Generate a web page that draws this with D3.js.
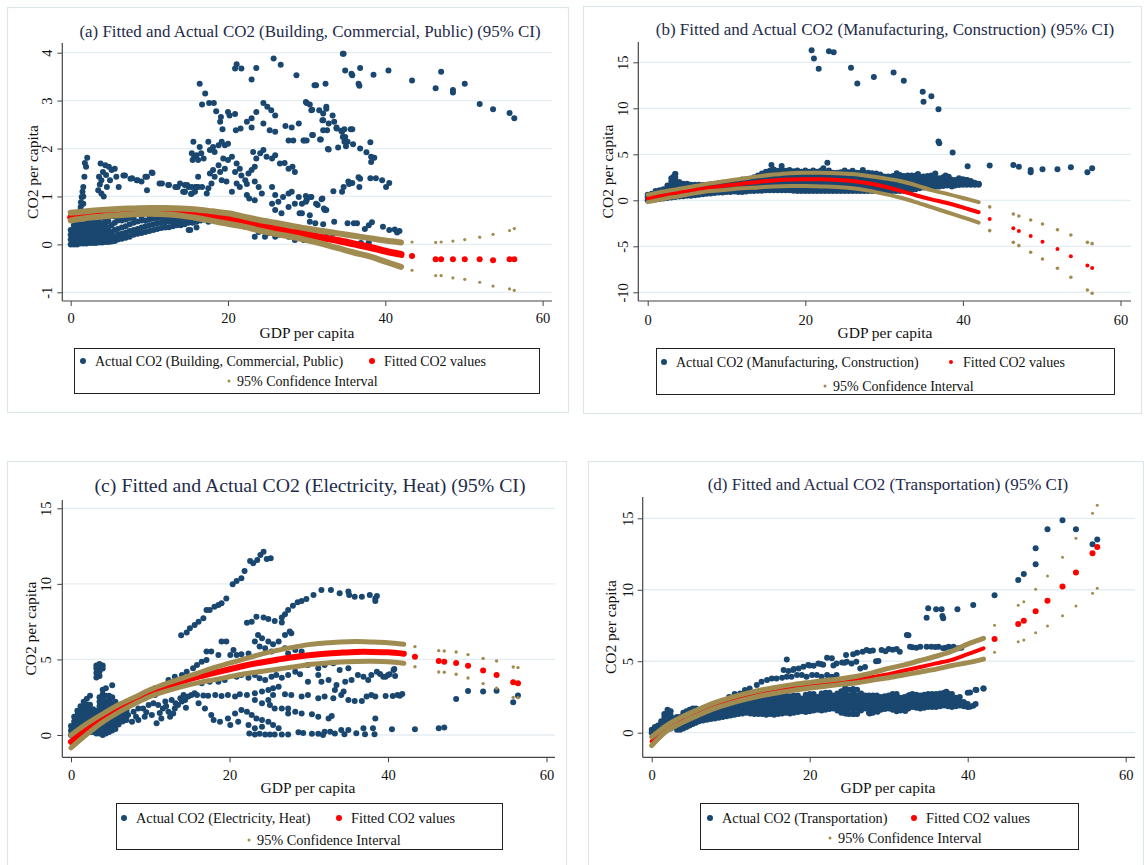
<!DOCTYPE html>
<meta charset="utf-8">
<style>
body { margin: 0; background: #fff; }
</style>
<svg width="1144" height="865"></svg>
<script src="https://d3js.org/d3.v7.min.js"></script>
<script>

// ---- data ----
const titles = [
	'(a) Fitted and Actual CO2 (Building, Commercial, Public) (95% CI)',
	'(b) Fitted and Actual CO2 (Manufacturing, Construction) (95% CI)',
	'(c) Fitted and Actual CO2 (Electricity, Heat) (95% CI)',
	'(d) Fitted and Actual CO2 (Transportation) (95% CI)'
];
const actualLabels = [
	'Actual CO2 (Building, Commercial, Public)',
	'Actual CO2 (Manufacturing, Construction)',
	'Actual CO2 (Electricity, Heat)',
	'Actual CO2 (Transportation)'
];
const fittedLabel = 'Fitted CO2 values';
const ciLabel = '95% Confidence Interval';
const xTicks = [0, 20, 40, 60];

// GDP per capita where fitted values / CI were read (dense part then sparse tail)
const gdpX = [0, 2, 4, 6, 8, 10, 12, 14, 16, 18, 20, 22, 24, 26, 28, 30, 32, 34, 36, 38, 40, 42,
	43.4, 46.4, 47.1, 48.6, 50.1, 52.0, 53.7, 55.8, 56.4];
const nDense = 22;

const fitA = [0.56, 0.63, 0.67, 0.69, 0.70, 0.71, 0.69, 0.67, 0.63, 0.59, 0.54, 0.47, 0.41, 0.34, 0.28, 0.21, 0.14, 0.08, 0.01, -0.06, -0.14, -0.21,
	-0.24, -0.31, -0.31, -0.31, -0.31, -0.31, -0.33, -0.31, -0.31];
const upA = [0.66, 0.69, 0.72, 0.74, 0.75, 0.76, 0.76, 0.75, 0.73, 0.69, 0.65, 0.58, 0.51, 0.45, 0.39, 0.33, 0.28, 0.23, 0.18, 0.13, 0.08, 0.04,
	0.05, 0.04, 0.05, 0.07, 0.10, 0.15, 0.21, 0.29, 0.33];
const loA = [0.50, 0.55, 0.58, 0.61, 0.63, 0.64, 0.63, 0.60, 0.55, 0.49, 0.43, 0.37, 0.29, 0.22, 0.16, 0.09, 0.01, -0.08, -0.17, -0.25, -0.36, -0.47,
	-0.54, -0.65, -0.65, -0.70, -0.73, -0.79, -0.87, -0.93, -0.96];

const fitB = [0.2, 0.55, 0.85, 1.15, 1.4, 1.6, 1.8, 2.0, 2.15, 2.25, 2.28, 2.28, 2.22, 2.1, 1.85, 1.5, 1.05, 0.55, 0.1, -0.3, -0.78, -1.3,
	-2.03, -3.05, -3.34, -3.88, -4.5, -5.29, -6.09, -7.1, -7.36];
const upB = [0.6, 0.95, 1.25, 1.55, 1.85, 2.1, 2.35, 2.6, 2.8, 2.95, 3.0, 3.0, 2.95, 2.85, 2.65, 2.4, 2.1, 1.65, 1.1, 0.7, 0.25, -0.2,
	-0.72, -1.49, -1.71, -2.14, -2.58, -3.2, -3.77, -4.57, -4.71];
const loB = [-0.2, 0.15, 0.45, 0.75, 1.0, 1.15, 1.3, 1.4, 1.5, 1.55, 1.55, 1.5, 1.45, 1.3, 1.05, 0.7, 0.3, -0.2, -0.75, -1.3, -1.85, -2.43,
	-3.3, -4.57, -4.93, -5.65, -6.38, -7.39, -8.37, -9.75, -10.1];

const fitC = [-0.45, 0.4, 1.15, 1.75, 2.3, 2.8, 3.2, 3.55, 3.85, 4.1, 4.35, 4.6, 4.8, 4.98, 5.15, 5.28, 5.38, 5.45, 5.5, 5.5, 5.47, 5.38,
	5.18, 4.9, 4.85, 4.76, 4.59, 4.26, 3.97, 3.49, 3.42];
const upC = [0.0, 0.75, 1.4, 2.0, 2.5, 3.0, 3.4, 3.75, 4.1, 4.45, 4.75, 5.05, 5.35, 5.6, 5.8, 5.98, 6.08, 6.15, 6.18, 6.15, 6.1, 6.0,
	5.85, 5.58, 5.56, 5.49, 5.32, 5.07, 4.9, 4.5, 4.46];
const loC = [-0.85, 0.05, 0.85, 1.5, 2.05, 2.55, 2.9, 3.2, 3.45, 3.65, 3.85, 4.05, 4.2, 4.35, 4.5, 4.65, 4.75, 4.83, 4.87, 4.88, 4.85, 4.75,
	4.52, 4.17, 4.15, 4.02, 3.77, 3.4, 3.09, 2.49, 2.47];

const fitD = [-0.6, 0.35, 0.95, 1.45, 1.9, 2.25, 2.55, 2.8, 3.0, 3.18, 3.32, 3.45, 3.58, 3.72, 3.9, 4.1, 4.35, 4.6, 4.85, 5.1, 5.5, 5.9,
	6.56, 7.61, 7.84, 8.49, 9.24, 10.22, 11.2, 12.55, 13.0];
const upD = [-0.3, 0.55, 1.15, 1.65, 2.1, 2.45, 2.75, 3.0, 3.2, 3.38, 3.52, 3.65, 3.78, 3.95, 4.2, 4.5, 4.75, 5.05, 5.35, 5.7, 6.2, 6.6,
	7.51, 8.91, 9.17, 10.03, 10.97, 12.27, 13.6, 15.35, 15.91];
const loD = [-0.9, 0.15, 0.75, 1.25, 1.7, 2.05, 2.35, 2.6, 2.8, 2.98, 3.12, 3.25, 3.38, 3.5, 3.68, 3.85, 4.05, 4.25, 4.45, 4.7, 4.9, 5.15,
	5.62, 6.37, 6.49, 7.0, 7.47, 8.19, 8.87, 9.75, 10.1];

// actual observations: single points "x,y" and dense columns "x:y,y,y"
const actualPtsA = `2.1,1.81 1.95,1.62 1.74,1.41 1.6,1.2 1.4,0.99 1.27,0.78 1.1,0.58 1.8,1.7 1.5,1.1 1.3,0.88
3.8,1.69 4.4,1.65 4.1,1.51 3.6,1.41 3.9,1.34 3.5,1.13 3.9,1.06 4.6,1.2 5.0,1.34 5.6,1.58 5.8,1.41 6.1,1.2 6.9,1.44 7.8,1.38 8.4,1.34 9.0,1.31 9.7,1.41 10.4,1.49 11.6,1.27 12.4,1.24 13.3,1.2 13.9,1.27 14.5,1.24 15.0,1.2 14.3,1.1 15.3,1.05 16.0,1.2 16.7,1.2 4.85,1.62 5.2,1.55 6.7,1.44 7.6,1.37 8.5,1.34 9.5,1.41 10.3,1.5 9.7,1.13 11.3,1.27 12.5,1.24 13.6,1.2 14.8,1.24 15.9,1.2 14.5,1.1 15.4,1.06 4.2,1.0 3.7,1.25 4.5,1.45
16.4,3.35 17.1,3.15 16.7,2.92 17.6,2.95 18.2,2.95 18.5,2.78 19.1,2.66 19.0,2.56 19.3,2.40 20.0,2.76 20.2,2.69 20.9,2.72 21.0,2.38 21.6,2.42 20.9,3.67 21.1,3.76 21.7,3.67 23.0,3.44 23.6,3.68 25.8,3.88 26.7,3.75 28.7,3.53 23.0,2.44 22.4,2.56 23.0,2.63 23.6,2.76 24.5,2.95 25.0,2.87 25.5,2.80 26.0,2.69 24.5,2.52 25.3,2.38 26.0,2.35 27.3,2.47 28.1,2.44 27.7,2.17 28.3,2.17 29.0,2.52 29.6,2.17 30.0,2.17 30.0,2.95 30.4,2.92 30.6,2.80 31.2,3.32 32.4,3.35 30.8,2.28 31.8,2.19 32.1,2.73 32.5,2.83 32.1,2.59 32.8,2.52 33.5,2.56 32.1,2.38 33.8,2.42 34.5,2.35 34.9,2.24 35.6,2.4 35.2,2.14 32.8,1.98 34.0,2.02 34.7,3.98 34.9,3.63 35.7,3.56
15.4,1.9 15.6,2.14 15.7,1.83 16.0,1.86 16.2,1.76 15.5,1.76 16.4,2.03 16.6,1.9 16.9,1.79 17.5,2.14 17.7,1.97 18.1,2.03 18.3,1.93 18.8,2.07 19.2,2.14 19.6,2.07 20.0,2.1 19.4,1.79 20.0,1.76 20.5,1.83 20.9,1.51 18.8,1.65 19.0,1.51 19.6,1.58 18.1,1.55 17.7,1.48 18.3,1.41 19.2,1.34 19.8,1.31 17.9,1.27 17.5,1.17 17.3,1.06 16.2,1.41 16.2,1.2 15.8,1.1 15.4,1.2 14.5,1.1 21.1,1.69 21.5,1.58 21.7,1.44 22.2,1.34 22.6,1.48 23.0,1.55 23.4,1.62 23.6,1.79 23.2,1.93 24.1,1.9 24.5,1.97 24.9,1.83 25.6,1.79 26.0,1.86 26.6,1.69 27.2,1.7 27.7,1.58 28.5,1.51 28.2,1.62 23.4,1.31 23.9,1.2 24.3,1.06 22.4,1.03 22.7,0.96 23.4,0.92 25.6,1.2 26.0,1.03 26.4,0.89 27.0,0.99 27.7,1.06 28.1,1.1 29.0,0.99 28.5,0.85 29.4,0.85 30.0,0.92 30.6,0.99 31.9,0.94 31.4,0.82 32.3,0.72 30.4,0.61 29.4,0.65 27.7,0.78 26.8,0.65 26.0,0.72 25.6,0.85 25.1,0.23 26.0,0.16 24.7,0.16 21.5,1.2 21.1,1.27 20.5,1.1 22.4,1.26 33.4,1.11 33.5,0.47 34.5,1.1 35.3,1.31 35.2,0.44
31.0,3.32 29.9,2.97 30.7,2.81 31.6,2.8 32.5,2.87 33.3,2.69 32.0,2.59 32.6,2.38 33.8,2.44 34.4,2.37 34.8,2.40 35.8,2.40 34.6,2.24 34.8,2.14 29.7,2.17 30.7,2.28 31.7,2.19 32.7,1.99 35.0,2.05 35.9,2.09 36.8,2.0 38.1,2.13 37.6,1.92 38.2,1.83 38.6,1.81 38.2,1.72 34.7,1.2 35.4,1.26 35.8,1.28 36.6,1.4 36.8,1.37 36.7,1.2 38.1,1.38 38.8,1.38 39.6,1.34 40.1,1.2 40.5,1.28 29.9,1.01 30.5,0.99 29.9,0.89 31.2,0.85 32.0,0.96 32.2,0.75 32.5,0.72 29.1,0.65 30.4,0.47 31.1,0.44 32.1,0.42 36.0,0.44 36.4,0.44 37.9,0.4 38.3,0.46 37.4,0.32 37.9,0.04 39.7,0.37 40.5,0.3 41.2,0.31 41.8,0.28 41.5,0.25 32.5,0.16 33.3,0.22 36.9,0.03 34.6,3.98 35.8,3.53 36.8,3.68 36.6,3.35 36.7,3.31 38.5,3.54 40.4,3.63
43.4,3.42 46.4,3.26 47.1,3.6 48.6,3.22 48.6,3.17 50.1,3.35 52.0,2.93 53.7,2.82 55.8,2.74 56.4,2.63
27.7,0.16 28.5,0.09 29.6,0.09 23.4,0.16 23.9,0.26 22.2,0.37 20.9,0.44 21.5,0.5 19.8,0.45 24.5,0.3 26.5,0.2 27.2,0.25 18.5,0.5 17.5,0.47 15.2,0.3 16.0,0.35`;
const actualColsA = `0:0,0.1,0.2,0.3 0.4:0,0.1,0.2,0.3,0.4 0.8:0,0.1,0.2,0.3,0.4,0.5 1.2:0.02,0.12,0.22,0.32,0.42,0.55,0.7 1.6:0.02,0.12,0.22,0.32,0.42,0.55,0.85,1
2:0.02,0.12,0.22,0.32,0.42,0.52 2.4:0.03,0.13,0.23,0.33,0.43,0.53 2.8:0.03,0.13,0.23,0.33,0.43,0.55 3.2:0.03,0.13,0.23,0.33,0.43,0.53 3.6:0.04,0.14,0.24,0.34,0.44,0.54
4:0.04,0.14,0.24,0.34,0.44,0.56 4.4:0.05,0.15,0.25,0.35,0.45,0.55 4.8:0.05,0.15,0.25,0.35,0.48,0.58 5.2:0.06,0.16,0.26,0.4,0.6 5.6:0.07,0.17,0.3,0.45,0.58
6:0.1,0.2,0.32,0.5 6.5:0.12,0.22,0.35,0.5 7:0.14,0.25,0.38,0.52 7.5:0.16,0.28,0.42,0.55 8:0.2,0.3,0.45,0.56 8.5:0.22,0.32,0.48 9:0.24,0.35,0.5,0.58 9.5:0.26,0.38,0.5
10:0.28,0.4,0.52,0.6 10.5:0.3,0.42,0.54 11:0.32,0.44,0.55 11.5:0.34,0.45,0.56 12:0.35,0.46,0.56 12.5:0.36,0.47,0.57 13:0.38,0.48,0.58 13.5:0.4,0.5,0.58
14:0.4,0.5,0.58 14.5:0.42,0.52 15:0.3,0.45,0.54 15.5:0.45,0.55 16:0.47,0.55 16.5:0.5 17:0.52`;

const actualPtsB = `20.8,16.3 21.1,15.4 23.0,16.2 23.6,16.1 21.7,14.3 25.8,14.4 26.6,12.7 28.7,13.4 31.2,13.9 32.5,13.0 34.9,11.8 35.0,10.7 36.0,11.3 36.9,9.9 36.9,6.4 37.0,6.2 38.7,5.2 40.6,3.7
43.4,3.77 46.4,3.84 47.1,3.65 48.6,3.29 48.6,3.04 50.1,3.37 52.0,3.37 53.7,3.58 55.8,3.04 56.4,3.48
15.7,3.84 17.0,3.73 22.8,4.09 22.3,3.48 27.3,3.30 34.3,2.86 3.5,2.86 3.3,2.6
42.0,1.78 41.3,1.78 40.1,2.03 39.0,2.03 38.2,2.57 37.3,2.21 36.0,2.64 35.2,2.21 34.3,1.78 33.5,2.21 32.9,2.5 32.0,2.75 31.2,2.64 31.6,2.93 30.5,2.39 29.7,2.5 38.6,1.49 36.7,1.49 35.6,1.67 38.4,2.03 39.5,2.4 40.5,2.2 41.0,2.1 37.8,2.7 36.5,2.9 35.8,2.5`;
const actualColsB = `0:0,0.3,0.6 0.5:0.05,0.35,0.7 1:0.1,0.45,0.8,1 1.5:0.15,0.5,0.85,1.1 2:0.2,0.55,0.9,1.2 2.5:0.25,0.6,0.95,1.3,1.6 3:0.3,0.65,1,1.35,1.7,2.05,2.4
3.5:0.35,0.7,1.05,1.4,1.75,2.1,2.5,2.85 4:0.4,0.75,1.1,1.45,1.8,2 4.5:0.45,0.8,1.15,1.5,1.8 5:0.5,0.85,1.2,1.5,1.8 5.5:0.5,0.85,1.2,1.5,1.7
6:0.55,0.9,1.25,1.7 6.5:0.6,0.95,1.3,1.7 7:0.65,1,1.35,1.65 7.5:0.7,1.05,1.4,1.7 8:0.75,1.1,1.45,1.75 8.5:0.8,1.15,1.5,1.8 9:0.85,1.2,1.55,1.85
9.5:0.85,1.2,1.55,1.9 10:0.9,1.25,1.6,1.9 10.5:0.9,1.25,1.6,1.95 11:0.95,1.3,1.65,1.95 11.5:0.9,1.25,1.6,1.95,2.1 12:0.9,1.25,1.6,1.95,2.25
12.5:0.95,1.3,1.65,2,2.3 13:1,1.35,1.7,2.05,2.35 13.5:1,1.35,1.7,2.05,2.4,2.5 14:1.05,1.4,1.75,2.1,2.45,2.7 14.5:1.05,1.4,1.75,2.1,2.45,2.75,2.9
15:1.1,1.45,1.8,2.15,2.5,2.8,3.1 15.5:1.1,1.45,1.8,2.15,2.5,2.85,3.2 16:1.1,1.45,1.8,2.15,2.5,2.85,3.2,3.35 16.5:1.1,1.45,1.8,2.15,2.5,2.85,3.2
17:1.1,1.45,1.8,2.15,2.5,2.85,3.2,3.35 17.5:1.1,1.45,1.8,2.15,2.5,2.85,3.2 18:1.1,1.45,1.8,2.15,2.5,2.85,3.2,3.3 18.5:1.05,1.4,1.75,2.1,2.45,2.8,3.15
19:1,1.35,1.7,2.05,2.4,2.75,3.1,3.25 19.5:1,1.35,1.7,2.05,2.4,2.75,3.1 20:1,1.35,1.7,2.05,2.4,2.75,3.1,3.25 20.5:1,1.35,1.7,2.05,2.4,2.75,3.1
21:1,1.35,1.7,2.05,2.4,2.75,3.1,3.25 21.5:1,1.35,1.7,2.05,2.4,2.75,3.1 22:1,1.35,1.7,2.05,2.4,2.75,3.05,3.25 22.5:1,1.35,1.7,2.05,2.4,2.75,3.05
23:1,1.35,1.7,2.05,2.4,2.7,3.05,3.25 23.5:1,1.35,1.7,2.05,2.4,2.7,3 24:1,1.35,1.7,2.05,2.4,2.7,3 24.5:1,1.35,1.7,2.05,2.4,2.7,3.05
25:1,1.35,1.7,2.05,2.4,2.7,3.05,3.25 25.5:1,1.35,1.7,2.05,2.4,2.7,3.05 26:1,1.35,1.7,2.05,2.4,2.7,3,3.2 26.5:1,1.35,1.7,2.05,2.4,2.7,3
27:1,1.35,1.7,2.05,2.4,2.7,3 27.5:1,1.35,1.7,2.05,2.4,2.7,3 28:1,1.35,1.7,2.05,2.4,2.7,3 28.5:1,1.35,1.7,2.05,2.35,2.65,2.95
29:1,1.35,1.7,2.05,2.35,2.65,2.9 29.5:1,1.35,1.7,2.05,2.35,2.6,2.8 30:1,1.35,1.7,2.05,2.35,2.6 30.5:1,1.35,1.7,2.05,2.35,2.6
31:1,1.35,1.7,2.05,2.35,2.6 31.5:1,1.35,1.7,2.05,2.35,2.6 32:1,1.35,1.7,2.05,2.35,2.6 32.5:1.05,1.4,1.75,2.1,2.4,2.65
33:1.1,1.45,1.8,2.15,2.45,2.7 33.5:1.15,1.5,1.85,2.2,2.5,2.7 34:1.2,1.55,1.9,2.25,2.55,2.7 34.5:1.3,1.65,2,2.3,2.6 35:1.4,1.75,2.1,2.4,2.6
35.5:1.45,1.8,2.15,2.45,2.65 36:1.5,1.85,2.2,2.5,2.7 36.5:1.5,1.85,2.2,2.45 37:1.5,1.85,2.2,2.4 37.5:1.55,1.9,2.25,2.5 38:1.6,1.95,2.3,2.5
38.5:1.6,1.95,2.25 39:1.6,1.95,2.2 39.5:1.65,2,2.3 40:1.7,2,2.3 40.5:1.7,2,2.2 41:1.7,2 41.5:1.7,1.9 42:1.7,1.8`;

const actualPtsC = `14.6,6.79 15.0,7.06 15.6,7.28 16.1,7.5 16.7,7.72 17.1,8.27 17.5,8.27 18.1,8.49 18.6,8.6 19.0,8.71 19.6,9.04 20.4,9.97 20.9,10.19 21.5,10.37 21.9,10.85 22.6,11.52 23.0,11.36 23.5,11.58 23.9,11.91 24.3,12.13 24.7,11.65 25.2,11.69 13.9,6.6
26.6,7.77 27.0,7.99 27.4,8.27 28.0,8.56 28.6,8.78 29.1,8.87 29.7,9.0 30.6,9.27 31.6,9.6 32.8,9.6 33.9,9.38 35.0,9.49 35.1,9.27 35.8,9.15 36.7,9.15 37.7,9.27 38.4,9.04 38.4,8.87 38.6,9.2
22.2,7.43 22.8,7.5 23.4,7.83 24.3,7.77 24.9,7.68 25.7,7.54 26.6,7.45 27.6,6.84 27.8,6.73 27.0,6.62 26.2,6.18 25.5,6.0 24.9,6.18 24.1,6.4 23.2,6.18 23.8,5.85 24.5,5.74 25.3,5.52 22.4,5.4 21.5,5.34 20.9,5.29 20.1,5.29 19.6,6.18 20.5,5.63 18.6,5.29 17.7,5.52 27.4,5.4 27.0,5.74 28.3,5.63 29.1,5.52 23.6,6.62 19.0,6.18 17.1,5.52
7.2,1.32 7.9,1.54 8.5,1.76 9.1,1.76 9.8,1.99 10.4,2.1 11.0,1.99 11.6,1.76 12.3,1.54 12.9,1.43 7.7,0.88 8.5,0.99 9.3,1.21 10.2,1.32 10.8,0.77 11.4,1.1 12.5,1.21 13.1,1.76 13.5,1.99 14.0,2.21 14.4,2.32 14.8,2.54 15.2,2.65 15.6,2.76 14.2,2.65 13.8,2.43 12.7,2.32 11.9,2.21 10.6,2.65 11.4,3.2 11.8,3.31 12.3,3.64 13.1,3.86 14.0,3.97 14.6,4.19 15.4,4.41 15.9,4.63 16.5,4.85 17.1,4.96 10.6,3.09 10.0,2.87 8.0,2.3 9.0,2.5 7.0,1.8 6.8,1.0 8.2,1.2 9.5,1.5 11.2,1.45 12.0,1.9 13.2,2.1 14.5,1.8
15.9,2.65 16.7,2.62 17.3,2.6 18.2,2.65 19.0,2.58 19.8,2.65 20.7,2.54 21.3,2.69 22.2,2.65 23.2,2.76 24.1,2.87 24.9,2.98 25.5,3.09 26.2,3.2
16.5,3.42 17.5,3.53 18.6,3.53 19.4,3.64 20.9,3.86 21.5,3.97 22.4,3.79 23.2,3.97 23.8,3.75 24.5,3.64 25.3,3.86 25.9,3.97 26.6,3.79 27.4,3.97 28.3,4.19 28.9,4.02
16.1,2.1 16.9,1.76 17.7,1.32 18.0,0.99 18.8,0.88 19.8,1.1 20.7,1.43 21.5,1.65 22.2,1.54 22.8,1.32 23.4,1.1 24.1,0.99 24.9,0.88 25.5,0.66 26.2,0.44 20.1,0.66 21.1,0.88 22.4,0.66 23.2,0.44 24.1,0.55 27.4,1.76 28.3,1.54 29.1,1.43 30.4,1.37 31.2,1.21 32.5,1.1 32.9,1.25 23.2,2.32 24.1,2.1 25.1,1.99 25.7,1.76 26.6,1.76 27.4,1.43 24.9,2.32 25.5,2.65 27.0,2.69 27.8,2.65 29.1,2.54 29.9,2.65 31.2,2.43 32.0,2.54 33.1,2.43 34.1,2.65 35.0,2.32 35.8,2.25 36.7,2.25 37.3,2.54 37.9,2.65 38.4,2.54
29.9,3.53 31.2,3.97 31.6,3.53 32.5,3.64 33.5,3.31 34.6,3.53 35.4,3.64 36.2,3.97 36.9,3.86 37.5,3.64 37.9,3.97 38.6,4.19 39.4,3.86 40.0,3.97 40.7,4.3 40.9,3.9 35.0,4.41 33.9,4.3 33.1,4.74 32.0,4.63 31.2,4.41 29.9,4.63 33.3,2.98 34.4,2.87
23.2,0.04 23.8,0.09 24.5,0.04 25.1,0.04 25.7,0.04 26.6,0.04 27.4,0.04 28.7,0.18 29.3,0.13 30.4,0.09 31.2,0.09 32.0,0.22 32.7,0.22 34.1,0.33 35.0,0.33 36.0,0.11 36.9,0.44 37.1,0.05 38.1,0.44 38.3,0.05 40.5,0.38 33.3,0.1 34.5,0.05 31.8,0.0 22.5,0.1
38.4,1.1 39.7,2.58 40.6,2.58 41.2,2.65 41.5,2.6 41.8,2.71 39.0,4.04 39.7,3.86 40.2,4.02 40.8,4.37
43.4,0.38 46.4,0.44 47.1,0.49 48.6,2.38 50.1,2.91 52.0,2.87 53.7,2.93 55.8,2.16 56.4,2.62`;
const actualColsC = `0:0,0.3,0.6 0.4:0,0.3,0.6,0.9,1.2 0.8:0.1,0.4,0.7,1,1.3,1.6 1.2:0.1,0.4,0.7,1,1.3,1.6,1.9 1.6:0.1,0.4,0.7,1,1.3,1.6,1.9,2.2
2:0.2,0.5,0.8,1.1,1.4,1.7,2,2.4 2.4:0.2,0.5,0.8,1.1,1.4,1.7,2,2.6 2.8:0.2,0.5,0.8,1.1,1.4,1.7 3.2:0.1,0.4,0.7,1,1.3,1.6,3.8,4.1,4.4,4.6
3.6:0.1,0.4,0.7,1,1.3,1.6,1.9,2.2,2.5,3.9,4.2,4.5,4.7 4:0,0.3,0.6,0.9,1.2,1.5,1.8,2.1,2.4,2.7,3,4.4,4.6 4.4:0.1,0.4,0.7,1,1.3,1.6,1.9,2.2,2.6,3.1
4.8:0.2,0.5,0.8,1.1,1.4,1.7,2,2.3,2.6 5.2:0.3,0.6,0.9,1.2,1.5,1.8,2.1,2.5,3.3 5.6:0.4,0.7,1,1.3,1.6,1.9,2.2 6:0.7,1,1.3,1.6,1.9
6.5:0.9,1.2,1.5,1.8 7:1,1.3,1.6`;

const actualPtsD = `38.7,8.63 34.8,8.05 35.0,8.7 36.0,8.63 36.7,8.63 36.8,8.17 36.9,8.0 40.7,8.94 32.5,6.81
43.4,9.61 46.4,10.69 47.1,11.1 48.6,11.78 48.6,12.9 50.1,14.23 52.0,14.86 53.7,14.23 55.8,13.18 56.4,13.51
17.1,5.13 16.7,4.39 17.3,4.32 17.9,4.39 18.6,4.5 19.2,4.62 19.8,4.74 20.5,4.69 21.1,4.85 22.2,5.25 22.8,5.2 23.4,4.85 24.1,4.92 24.7,4.97 25.3,4.85 25.9,4.97 26.4,4.5 24.6,5.44 25.5,5.48 26.7,5.67 27.2,5.79 27.6,5.72 28.7,5.02 29.1,5.79 30.0,5.86 31.0,5.86 31.4,5.67 32.7,6.02 34.0,6.02 34.8,6.02 35.4,6.02 36.3,6.02 36.9,5.9 37.6,6.02 38.2,6.02 38.8,5.9 32.3,6.83 27.0,4.6 21.7,4.75 23.0,4.7 33.5,5.95 30.5,5.8 29.6,5.7
18.0,4.45 20.0,4.7 21.4,4.8 24.4,4.9 26.0,5.6 28.0,5.75 28.4,5.0 33.0,5.98 35.9,6.0 37.2,5.95 39.2,5.95
13.3,3.34 13.9,3.57 14.6,3.69 15.2,3.8 15.8,3.8 16.5,3.85 17.1,3.92 17.7,3.92 18.4,4.04 19.0,4.04 19.6,3.92 20.3,4.04 20.9,4.04 21.5,3.92 22.2,4.04 22.8,3.92 23.4,4.04 12.4,3.1 11.8,2.99 11.2,2.75 10.5,2.7 9.8,2.5
24.7,1.35 25.6,1.3 27.6,1.35 28.6,1.47 32.1,1.52 31.0,1.6 24.5,3.1 25.5,3.0 32.7,2.64 37.3,2.87 42.0,3.1 41.1,2.99 40.3,2.82 40.7,1.89 40.3,1.82 39.0,1.94`;
const actualColsD = `0:0,0.2 0.4:0,0.2,0.4 0.8:0.1,0.3,0.5 1.2:0.2,0.4,0.6,0.8 1.6:0.3,0.5,0.8,1.1,1.3 2:0.3,0.5,0.8,1.1,1.4,1.6 2.4:0.3,0.6,0.9,1.2,1.5
2.8:0.4,0.7,1 3.2:0.2,0.5,0.8,1.1 3.6:0.2,0.5,0.8,1.1 4:0.3,0.6,0.9,1.2,1.4 4.4:0.4,0.7,1,1.3,1.5 4.8:0.5,0.8,1.1,1.4,1.6 5.2:0.6,0.9,1.2,1.5,1.7 5.6:0.7,1,1.3,1.6,1.7
6:0.8,1.1,1.4 6.5:0.85,1.15,1.45,1.7 7:0.9,1.2,1.5,1.8 7.5:0.95,1.25,1.55,1.85 8:1,1.3,1.6,1.9 8.5:1.05,1.35,1.65,1.95 9:1.1,1.4,1.7,2 9.5:1.15,1.45,1.75,2.05
10:1.2,1.5,1.8,2.1 10.5:1.25,1.55,1.85,2.15 11:1.3,1.6,1.9,2.2 11.5:1.35,1.65,1.95,2.25 12:1.4,1.7,2,2.3 12.5:1.35,1.65,1.95,2.25 13:1.3,1.6,1.9,2.2,2.4
13.5:1.3,1.6,1.9,2.2,2.45 14:1.3,1.6,1.9,2.2,2.5 14.5:1.25,1.55,1.85,2.15,2.45 15:1.3,1.6,1.9,2.2,2.5 15.5:1.25,1.55,1.85,2.15,2.45 16:1.3,1.6,1.9,2.2,2.5
16.5:1.35,1.65,1.95,2.25,2.55 17:1.4,1.7,2,2.3,2.6 17.5:1.35,1.65,1.95,2.25,2.55 18:1.4,1.7,2,2.3,2.6 18.5:1.45,1.75,2.05,2.35,2.6 19:1.5,1.8,2.1,2.4
19.5:1.45,1.75,2.05,2.35,2.65 20:1.5,1.8,2.1,2.4,2.7 20.5:1.55,1.85,2.15,2.45,2.7 21:1.6,1.9,2.2,2.5 21.5:1.55,1.85,2.15,2.45,2.75 22:1.6,1.9,2.2,2.5,2.8
22.5:1.65,1.95,2.25,2.55,2.8 23:1.7,2,2.3,2.6 23.5:1.55,1.85,2.15,2.45,2.75 24:1.4,1.7,2,2.3,2.6,2.9 24.5:1.35,1.65,1.95,2.25,2.55,2.85,3.1
25:1.3,1.7,2,2.3,2.6,3 25.5:1.3,1.6,1.9,2.2,2.5,2.8,3.05 26:1.3,1.7,2,2.3,2.6,3 26.5:1.55,1.85,2.15,2.45,2.75 27:1.7,2,2.3,2.6 27.5:1.4,1.7,2,2.3,2.6
28:1.4,1.7,2,2.3,2.6 28.5:1.5,1.8,2.1,2.4,2.6 29:1.6,1.9,2.2,2.5 29.5:1.65,1.95,2.25,2.55 30:1.7,2,2.3,2.6 30.5:1.6,1.9,2.2,2.5,2.7 31:1.5,1.8,2.1,2.4,2.7
31.5:1.55,1.85,2.15,2.45 32:1.6,1.9,2.2,2.5 32.5:1.7,2,2.3,2.6 33:1.8,2.1,2.4,2.7 33.5:1.75,2.05,2.35,2.65 34:1.7,2,2.3,2.6 34.5:1.75,2.05,2.35,2.65
35:1.8,2.1,2.4,2.7 35.5:1.8,2.1,2.4,2.7 36:1.8,2.1,2.4,2.7 36.5:1.85,2.15,2.45,2.75 37:1.9,2.2,2.5,2.8 37.5:1.85,2.15,2.45,2.75 38:1.8,2.1,2.4,2.7
38.5:1.85,2.15,2.45 39:1.9,2.2,2.5 39.5:1.85,2.15 40:1.8,2,2.8 41:2,3 42:3.1`;

// ---- helpers ----
const pts = (s) => s.trim().split(/\s+/).map((p) => p.split(',').map(Number));
const cols = (s) => s.trim().split(/\s+/).flatMap((c) => {
	const [x, ys] = c.split(':');
	return ys.split(',').map((v) => [Number(x), Number(v)]);
});

const NAVY = '#1a476f', RED = '#ff0000', TAN = '#a08b50';
const SERIF = '"Liberation Serif", "Times New Roman", serif';
const svg = d3.select('svg');

const panels = [
	{ frame: [7, 7, 568, 412], xr: [70.7, 542.6], yd: [-1, 4], yr: [292.3, 52.7], yTicks: [-1, 0, 1, 2, 3, 4],
		axL: 62.3, axR: 552, axT: 43, axB: 301, tickLabX: 47, yTitleX: 33, titleX: 310, titleY: 37, titleSize: 16.9,
		xTickY: 323, xTitleX: 307, xTitleY: 338,
		leg: { box: [74, 348, 539, 393], r1: 361, r2: 381, a: 83, f: 372, c: 229, size: 14 },
		rA: 3, rF: 3, wF: 7, rC: 1.6, wC: 6,
		actual: pts(actualPtsA).concat(cols(actualColsA)), fit: fitA, up: upA, lo: loA },
	{ frame: [583, 6, 1141, 413], xr: [647.7, 1120.5], yd: [-10, 15], yr: [292.3, 62.3], yTicks: [-10, -5, 0, 5, 10, 15],
		axL: 638.3, axR: 1131, axT: 42, axB: 301, tickLabX: 623, yTitleX: 608, titleX: 885, titleY: 35, titleSize: 17,
		xTickY: 325, xTitleX: 885, xTitleY: 338,
		leg: { box: [656, 348, 1114, 394], r1: 362, r2: 386, a: 664, f: 951, c: 825, size: 14 },
		rA: 3, rF: 2, wF: 4, rC: 1.8, wC: 4,
		actual: pts(actualPtsB).concat(cols(actualColsB)), fit: fitB, up: upB, lo: loB },
	{ frame: [7, 461, 566, 870], xr: [71, 546.5], yd: [0, 15], yr: [735, 508.3], yTicks: [0, 5, 10, 15],
		axL: 62.3, axR: 555, axT: 500, axB: 757.3, tickLabX: 46, yTitleX: 31, titleX: 310, titleY: 492, titleSize: 19.8,
		xTickY: 780, xTitleX: 308, xTitleY: 793,
		leg: { box: [116, 803, 502, 849], r1: 818, r2: 840, a: 124, f: 339, c: 249, size: 14.3 },
		rA: 3, rF: 3, wF: 6, rC: 1.7, wC: 5,
		actual: pts(actualPtsC).concat(cols(actualColsC)), fit: fitC, up: upC, lo: loC },
	{ frame: [588, 461, 1143, 870], xr: [651.7, 1125.7], yd: [0, 15], yr: [732.7, 518.3], yTicks: [0, 5, 10, 15],
		axL: 642.7, axR: 1135, axT: 497, axB: 757.3, tickLabX: 628, yTitleX: 611, titleX: 888, titleY: 490, titleSize: 17,
		xTickY: 780, xTitleX: 888, xTitleY: 793,
		leg: { box: [700, 803, 1078, 849], r1: 818, r2: 838, a: 710, f: 914, c: 830, size: 14.3 },
		rA: 3, rF: 3, wF: 4, rC: 1.5, wC: 5,
		actual: pts(actualPtsD).concat(cols(actualColsD)), fit: fitD, up: upD, lo: loD }
];

function drawPanel(p, i) {
	const x = d3.scaleLinear().domain([0, 60]).range(p.xr);
	const y = d3.scaleLinear().domain(p.yd).range(p.yr);
	const g = svg.append('g').attr('font-family', SERIF);

	// outer frame
	g.append('rect')
		.attr('x', p.frame[0] + 0.5).attr('y', p.frame[1] + 0.5)
		.attr('width', p.frame[2] - p.frame[0]).attr('height', p.frame[3] - p.frame[1])
		.attr('fill', 'none').attr('stroke', '#dde6ea').attr('stroke-width', 1.2);

	// grid
	g.append('g').selectAll('line').data(p.yTicks).join('line')
		.attr('x1', p.axL).attr('x2', p.axR)
		.attr('y1', (d) => y(d)).attr('y2', (d) => y(d))
		.attr('stroke', '#e4edf1').attr('stroke-width', 1.3);

	// actual
	g.append('g').selectAll('circle').data(p.actual).join('circle')
		.attr('cx', (d) => x(d[0])).attr('cy', (d) => y(d[1]))
		.attr('r', p.rA).attr('fill', NAVY);

	const rows = gdpX.map((gx, k) => ({ x: gx, fit: p.fit[k], up: p.up[k], lo: p.lo[k], dense: k < nDense }));
	const dense = rows.filter((r) => r.dense);
	const tail = rows.filter((r) => !r.dense);
	const line = (key) => d3.line().x((d) => x(d.x)).y((d) => y(d[key])).curve(d3.curveCatmullRom)(dense);

	// fitted
	g.append('path').attr('d', line('fit')).attr('fill', 'none')
		.attr('stroke', RED).attr('stroke-width', p.wF).attr('stroke-linecap', 'round');
	g.append('g').selectAll('circle').data(tail).join('circle')
		.attr('cx', (d) => x(d.x)).attr('cy', (d) => y(d.fit)).attr('r', p.rF).attr('fill', RED);

	// confidence interval
	['up', 'lo'].forEach((key) => {
		g.append('path').attr('d', line(key)).attr('fill', 'none')
			.attr('stroke', TAN).attr('stroke-width', p.wC).attr('stroke-linecap', 'round');
		g.append('g').selectAll('circle').data(tail).join('circle')
			.attr('cx', (d) => x(d.x)).attr('cy', (d) => y(d[key])).attr('r', p.rC).attr('fill', TAN);
	});

	// axes
	g.append('g').attr('transform', `translate(0,${p.axB})`)
		.call(d3.axisBottom(x).tickValues(xTicks).tickSize(5).tickFormat((d) => String(d)))
		.attr('font-family', SERIF).attr('font-size', 14.5)
		.call((a) => a.select('.domain').remove())
		.call((a) => a.selectAll('line').attr('stroke', '#444'))
		.call((a) => a.selectAll('text').attr('y', p.xTickY - p.axB).attr('dy', 0).attr('fill', '#111'));
	g.append('g').attr('transform', `translate(${p.axL},0)`)
		.call(d3.axisLeft(y).tickValues(p.yTicks).tickSize(5).tickFormat((d) => String(d)))
		.attr('font-family', SERIF).attr('font-size', 14.5)
		.call((a) => a.select('.domain').remove())
		.call((a) => a.selectAll('line').attr('stroke', '#444'))
		.call((a) => a.selectAll('text')
			.attr('x', 0).attr('dy', 0).attr('y', p.tickLabX - p.axL + 5)
			.attr('transform', 'rotate(-90)').attr('text-anchor', 'middle').attr('fill', '#111'));
	g.append('line').attr('x1', p.axL).attr('x2', p.axL).attr('y1', p.axT).attr('y2', p.axB)
		.attr('stroke', '#444').attr('stroke-width', 1.2);
	g.append('line').attr('x1', p.axL).attr('x2', p.axR).attr('y1', p.axB).attr('y2', p.axB)
		.attr('stroke', '#444').attr('stroke-width', 1.2);

	// titles
	g.append('text').attr('x', p.titleX).attr('y', p.titleY).attr('text-anchor', 'middle')
		.attr('font-size', p.titleSize).attr('fill', '#1e2b4a').text(titles[i]);
	g.append('text').attr('x', p.xTitleX).attr('y', p.xTitleY).attr('text-anchor', 'middle')
		.attr('font-size', 15.5).attr('fill', '#111').text('GDP per capita');
	g.append('text').attr('transform', `translate(${p.yTitleX},${(p.axT + p.axB) / 2}) rotate(-90)`)
		.attr('y', 5).attr('text-anchor', 'middle')
		.attr('font-size', 15.5).attr('fill', '#111').text('CO2 per capita');

	// legend
	const L = p.leg;
	g.append('rect').attr('x', L.box[0] + 0.5).attr('y', L.box[1] + 0.5)
		.attr('width', L.box[2] - L.box[0]).attr('height', L.box[3] - L.box[1])
		.attr('fill', '#fff').attr('stroke', '#222').attr('stroke-width', 1);
	const items = [
		{ cx: L.a, cy: L.r1, r: 3, c: NAVY, t: actualLabels[i] },
		{ cx: L.f, cy: L.r1, r: p.rF, c: RED, t: fittedLabel },
		{ cx: L.c, cy: L.r2, r: 1.5, c: TAN, t: ciLabel }
	];
	const it = g.append('g').selectAll('g').data(items).join('g');
	it.append('circle').attr('cx', (d) => d.cx).attr('cy', (d) => d.cy).attr('r', (d) => d.r).attr('fill', (d) => d.c);
	it.append('text').attr('x', (d) => d.cx + (d.c === TAN ? 8 : 12)).attr('y', (d) => d.cy + 4.5)
		.attr('font-size', L.size).attr('fill', '#111').text((d) => d.t);
}

panels.forEach(drawPanel);

</script>
